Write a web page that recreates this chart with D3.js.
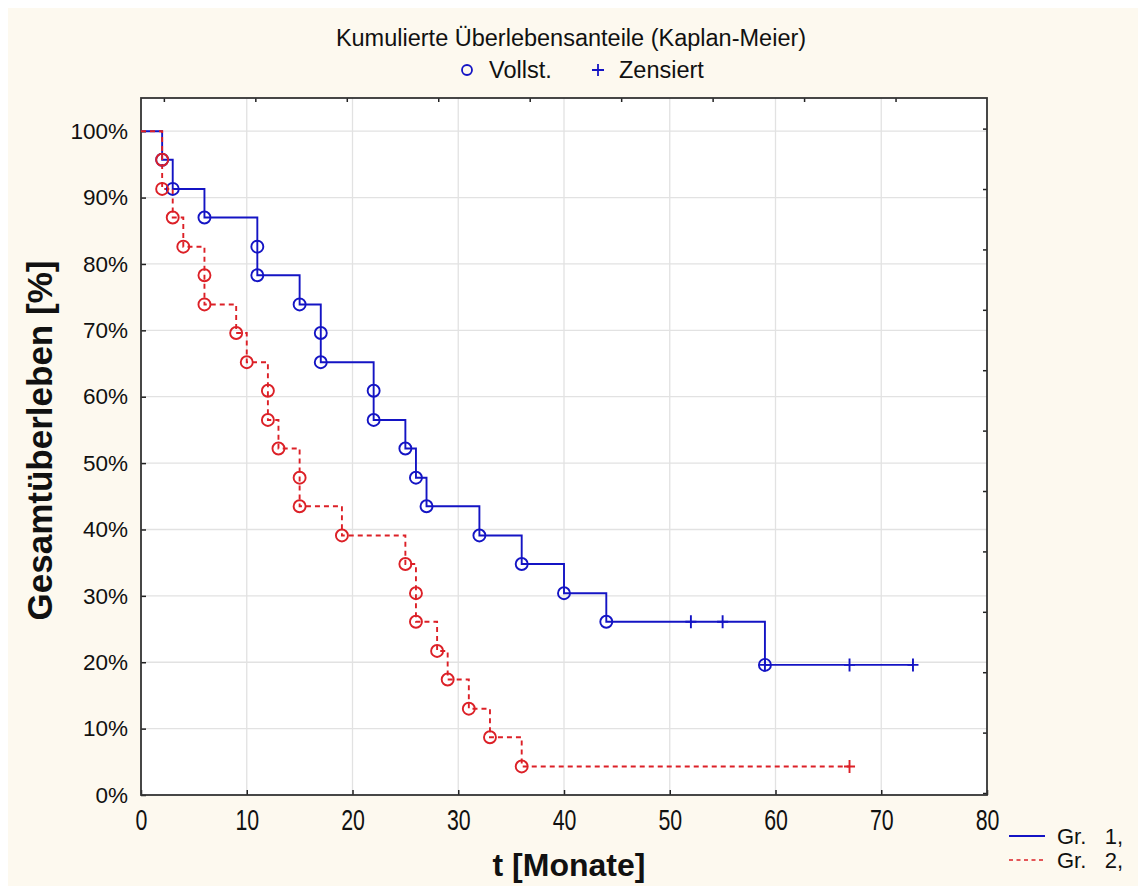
<!DOCTYPE html>
<html>
<head>
<meta charset="utf-8">
<script src="https://cdn.jsdelivr.net/npm/d3@7"></script>
<style>
  html, body { margin: 0; padding: 0; background: #fff; }
  svg { display: block; }
  text { font-family: "Liberation Sans", Arial, sans-serif; fill: #111; }
</style>
</head>
<body>
<svg id="chart" width="1138" height="886"></svg>
<script>
// Gruppe 1 (blau, durchgezogen): Ereignisse und Zensierungen
const g1EventT = [2, 3, 6, 11, 11, 15, 17, 17, 22, 22, 25, 26, 27, 32, 36, 40, 44, 59]
const g1EventS = [95.7, 91.3, 87.0, 82.6, 78.3, 73.9, 69.6, 65.2, 60.9, 56.5, 52.2, 47.8, 43.5, 39.1, 34.8, 30.4, 26.1, 19.6]
const g1CensT = [52, 55, 59, 67, 73]
const g1CensS = [26.1, 26.1, 19.6, 19.6, 19.6]

// Gruppe 2 (rot, gestrichelt)
const g2EventT = [2, 2, 3, 4, 6, 6, 9, 10, 12, 12, 13, 15, 15, 19, 25, 26, 26, 28, 29, 31, 33, 36]
const g2EventS = [95.7, 91.3, 87.0, 82.6, 78.3, 73.9, 69.6, 65.2, 60.9, 56.5, 52.2, 47.8, 43.5, 39.1, 34.8, 30.4, 26.1, 21.7, 17.4, 13.0, 8.7, 4.3]
const g2CensT = [67]
const g2CensS = [4.3]

// Achsen
const xTicks = [0, 10, 20, 30, 40, 50, 60, 70, 80]
const yTicks = [0, 10, 20, 30, 40, 50, 60, 70, 80, 90, 100]

const BLUE = '#1414c4'
const RED = '#dc2027'

const svg = d3.select('#chart')
const margin = { top: 98, right: 151, bottom: 91, left: 141 }
const width = 1138 - margin.left - margin.right
const height = 886 - margin.top - margin.bottom

// Hintergrund
svg.append('rect')
  .attr('x', 8).attr('y', 8)
  .attr('width', 1130).attr('height', 878)
  .attr('fill', '#fdf9ef')

const x = d3.scaleLinear().domain([0, 80]).range([0, width])
const y = d3.scaleLinear().domain([0, 105]).range([height, 0])

const g = svg.append('g').attr('transform', `translate(${margin.left},${margin.top})`)

g.append('rect')
  .attr('width', width).attr('height', height)
  .attr('fill', '#fff')

// Gitterlinien
g.selectAll('.vgrid')
  .data(xTicks.slice(1, -1))
  .enter()
  .append('line')
  .attr('x1', d => x(d)).attr('x2', d => x(d))
  .attr('y1', 0).attr('y2', height)
  .attr('stroke', '#e2e2e2').attr('stroke-width', 1.3)

g.selectAll('.hgrid')
  .data(yTicks.slice(1))
  .enter()
  .append('line')
  .attr('x1', 0).attr('x2', width)
  .attr('y1', d => y(d)).attr('y2', d => y(d))
  .attr('stroke', '#e2e2e2').attr('stroke-width', 1.3)

// Achse X
const xAxis = g.append('g')
  .attr('transform', `translate(0,${height})`)
  .call(d3.axisBottom(x).tickValues(xTicks).tickSizeInner(-5).tickSizeOuter(0).tickPadding(11))
xAxis.select('.domain').remove()
xAxis.selectAll('line').attr('stroke', '#222').attr('stroke-width', 1.5)
xAxis.selectAll('text')
  .attr('font-size', 22)
  .attr('font-family', '"Liberation Sans", Arial, sans-serif')
  .attr('fill', '#111')
  .attr('transform', 'scale(0.97,1.3)')

// Achse Y
const yAxis = g.append('g')
  .call(d3.axisLeft(y).tickValues(yTicks).tickFormat(d => d + '%').tickSizeInner(-5).tickSizeOuter(0).tickPadding(13))
yAxis.select('.domain').remove()
yAxis.selectAll('line').attr('stroke', '#222').attr('stroke-width', 1.5)
yAxis.selectAll('text')
  .attr('font-size', 22.5)
  .attr('font-family', '"Liberation Sans", Arial, sans-serif')
  .attr('fill', '#111')

// kleine Markierungen oben und rechts
const xTop = d3.scaleLinear().domain([-0.25, 9]).range([0, width])
const topAxis = g.append('g')
  .call(d3.axisTop(xTop).tickValues(d3.range(0, 9)).tickSizeInner(-4).tickSizeOuter(0).tickFormat(''))
topAxis.select('.domain').remove()
topAxis.selectAll('line').attr('stroke', '#222').attr('stroke-width', 1.5)

const yRight = d3.scaleLinear().domain([-0.507, 11.033]).range([0, height])
const rightAxis = g.append('g')
  .attr('transform', `translate(${width},0)`)
  .call(d3.axisRight(yRight).tickValues(d3.range(0, 12)).tickSizeInner(-4).tickSizeOuter(0).tickFormat(''))
rightAxis.select('.domain').remove()
rightAxis.selectAll('line').attr('stroke', '#222').attr('stroke-width', 1.5)

// Rahmen
g.append('rect')
  .attr('width', width).attr('height', height)
  .attr('fill', 'none')
  .attr('stroke', '#333').attr('stroke-width', 1.8)

// Kurven
const line = d3.line()
  .x(d => x(d[0]))
  .y(d => y(d[1]))
  .curve(d3.curveStepAfter)

const stepPoints = (evT, evS, cT) => {
  const pts = [[0, 100]]
  evT.forEach((t, i) => pts.push([t, evS[i]]))
  pts.push([d3.max(cT), evS[evS.length - 1]])
  return pts
}

g.append('path')
  .datum(stepPoints(g1EventT, g1EventS, g1CensT))
  .attr('d', line)
  .attr('fill', 'none')
  .attr('stroke', BLUE)
  .attr('stroke-width', 1.9)

g.append('path')
  .datum(stepPoints(g2EventT, g2EventS, g2CensT))
  .attr('d', line)
  .attr('fill', 'none')
  .attr('stroke', RED)
  .attr('stroke-width', 1.9)
  .attr('stroke-dasharray', '5,4')

const plusPath = 'M-5.5,0H5.5M0,-6.5V6.5'

const drawMarks = (evT, evS, cT, cS, color) => {
  g.selectAll(null)
    .data(evT.map((t, i) => [t, evS[i]]))
    .enter()
    .append('circle')
    .attr('cx', d => x(d[0]))
    .attr('cy', d => y(d[1]))
    .attr('r', 6)
    .attr('fill', 'none')
    .attr('stroke', color)
    .attr('stroke-width', 1.9)

  g.selectAll(null)
    .data(cT.map((t, i) => [t, cS[i]]))
    .enter()
    .append('path')
    .attr('d', plusPath)
    .attr('transform', d => `translate(${x(d[0])},${y(d[1])})`)
    .attr('fill', 'none')
    .attr('stroke', color)
    .attr('stroke-width', 1.9)
}

drawMarks(g1EventT, g1EventS, g1CensT, g1CensS, BLUE)
drawMarks(g2EventT, g2EventS, g2CensT, g2CensS, RED)

// Titel und Legende oben
svg.append('text')
  .attr('x', 571).attr('y', 46)
  .attr('text-anchor', 'middle')
  .attr('font-size', 23.5)
  .text('Kumulierte Überlebensanteile (Kaplan-Meier)')

svg.append('circle')
  .attr('cx', 467).attr('cy', 70).attr('r', 5)
  .attr('fill', 'none').attr('stroke', BLUE).attr('stroke-width', 1.8)
svg.append('text')
  .attr('x', 489).attr('y', 78)
  .attr('font-size', 23.5)
  .text('Vollst.')

svg.append('path')
  .attr('d', 'M-6,0H6M0,-6V6')
  .attr('transform', 'translate(598,70)')
  .attr('stroke', BLUE).attr('stroke-width', 1.8)
svg.append('text')
  .attr('x', 619).attr('y', 78)
  .attr('font-size', 23.5)
  .text('Zensiert')

// Achsentitel
svg.append('text')
  .attr('transform', `translate(52,${margin.top + height / 2 - 6}) rotate(-90)`)
  .attr('text-anchor', 'middle')
  .attr('font-size', 35)
  .attr('font-weight', 'bold')
  .text('Gesamtüberleben [%]')

svg.append('text')
  .attr('x', 569).attr('y', 876)
  .attr('text-anchor', 'middle')
  .attr('font-size', 32)
  .attr('font-weight', 'bold')
  .text('t [Monate]')

// Legende unten rechts
const groups = ['Gr.   1,', 'Gr.   2,']
const legend = svg.append('g').attr('transform', 'translate(1009,836)')
groups.forEach((name, i) => {
  legend.append('line')
    .attr('x1', 0).attr('x2', 36)
    .attr('y1', i * 24).attr('y2', i * 24)
    .attr('stroke', i === 0 ? BLUE : RED)
    .attr('stroke-width', i === 0 ? 1.9 : 1.4)
    .attr('stroke-dasharray', i === 0 ? null : '4,3.5')
  legend.append('text')
    .attr('x', 48).attr('y', i * 24 + 8)
    .attr('font-size', 22)
    .attr('xml:space', 'preserve')
    .style('white-space', 'pre')
    .text(name)
})
</script>
</body>
</html>
